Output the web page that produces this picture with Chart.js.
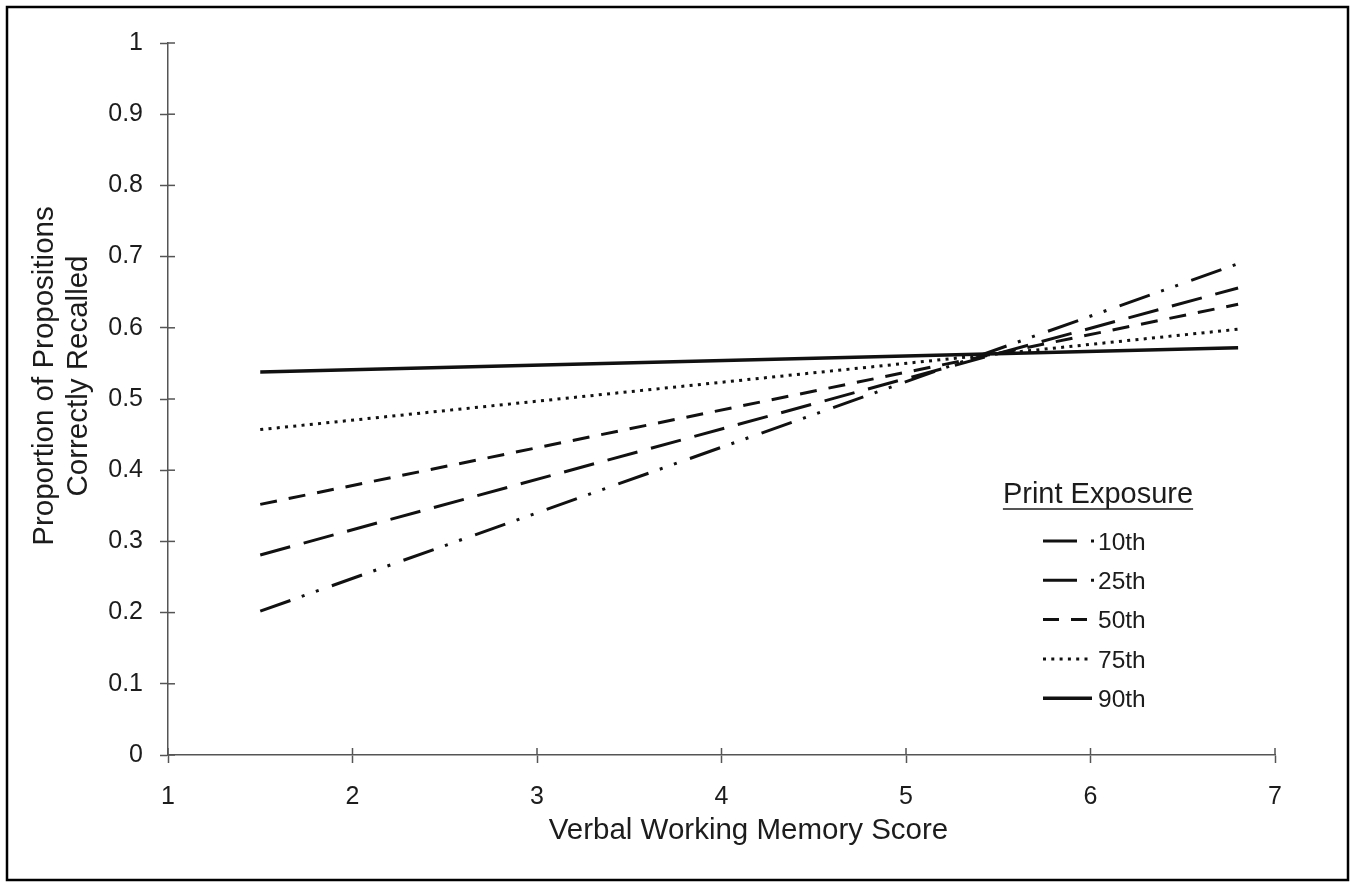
<!DOCTYPE html>
<html>
<head>
<meta charset="utf-8">
<script src="https://cdn.jsdelivr.net/npm/chart.js@4"></script>
<style>
  html, body { margin: 0; padding: 0; background: #fff; }
  #wrap { width: 1355px; height: 886px; position: relative; }
</style>
</head>
<body>
<div id="wrap"><canvas id="grafico" width="1355" height="886"></canvas></div>
<script>
// valores
const puntosX = [1.5, 6.8];
const etiquetas = ["10th", "25th", "50th", "75th", "90th"];
const p10 = [0.202, 0.690];
const p25 = [0.281, 0.656];
const p50 = [0.352, 0.633];
const p75 = [0.457, 0.598];
const p90 = [0.538, 0.572];
const ticksX = [1, 2, 3, 4, 5, 6, 7];
const ticksY = [0, 0.1, 0.2, 0.3, 0.4, 0.5, 0.6, 0.7, 0.8, 0.9, 1];
const tituloX = "Verbal Working Memory Score";
const tituloY = ["Proportion of Propositions", "Correctly Recalled"];
const tituloLeyenda = "Print Exposure";

const fuente = "'Liberation Sans', Arial, sans-serif";
const tinta = "#1c1c1c";

const estilos = [
  { dash: [32, 12, 3, 12, 3, 14], muestra: [34, 14, 3, 100], ancho: 3 },
  { dash: [31, 14], muestra: [34, 14, 3, 100], ancho: 3 },
  { dash: [17, 12], muestra: [16, 12], ancho: 3 },
  { dash: [3, 5.3], muestra: [3, 5.3], ancho: 3 },
  { dash: [], muestra: [], ancho: 3.5 },
];

const series = [p10, p25, p50, p75, p90];

const datasets = series.map((vals, i) => ({
  label: etiquetas[i],
  data: puntosX.map((x, j) => ({ x: x, y: vals[j] })),
  borderColor: "#111",
  borderWidth: estilos[i].ancho,
  borderDash: estilos[i].dash,
  pointRadius: 0,
  fill: false,
  tension: 0,
}));

// ticks que cruzan el eje, titulos, borde exterior y leyenda
const extras = {
  id: "extras",
  afterDraw(chart) {
    const ctx = chart.ctx;
    const xs = chart.scales.x;
    const ys = chart.scales.y;
    const area = chart.chartArea;
    ctx.save();
    ctx.strokeStyle = "#555";
    ctx.lineWidth = 1.5;
    ticksY.forEach((v) => {
      const py = ys.getPixelForValue(v);
      ctx.beginPath();
      ctx.moveTo(xs.left, py);
      ctx.lineTo(xs.left + 7, py);
      ctx.stroke();
    });
    ticksX.forEach((v) => {
      const px = xs.getPixelForValue(v);
      ctx.beginPath();
      ctx.moveTo(px, ys.bottom);
      ctx.lineTo(px, ys.bottom - 7);
      ctx.stroke();
    });

    // titulos de ejes
    ctx.fillStyle = tinta;
    ctx.font = "29.5px " + fuente;
    ctx.textAlign = "center";
    ctx.textBaseline = "middle";
    ctx.fillText(tituloX, (area.left + area.right) / 2 + 27, 831);
    ctx.save();
    ctx.translate(45, (area.top + area.bottom) / 2 - 23);
    ctx.rotate(-Math.PI / 2);
    ctx.fillText(tituloY[0], 0, 0);
    ctx.fillText(tituloY[1], 0, 34);
    ctx.restore();

    // borde
    ctx.strokeStyle = "#000";
    ctx.lineWidth = 2.5;
    ctx.strokeRect(7, 7, 1341, 873);

    // leyenda
    const cx = 1098;
    ctx.fillStyle = tinta;
    ctx.font = "29px " + fuente;
    ctx.textAlign = "center";
    ctx.fillText(tituloLeyenda, cx, 495);
    const w = ctx.measureText(tituloLeyenda).width;
    ctx.strokeStyle = tinta;
    ctx.lineWidth = 1.5;
    ctx.beginPath();
    ctx.moveTo(cx - w / 2, 509);
    ctx.lineTo(cx + w / 2, 509);
    ctx.stroke();

    ctx.font = "24.5px " + fuente;
    ctx.textAlign = "left";
    chart.data.datasets.forEach((ds, i) => {
      const y = 541 + i * 39.3;
      ctx.strokeStyle = "#111";
      ctx.lineWidth = ds.borderWidth;
      ctx.setLineDash(estilos[i].muestra);
      ctx.beginPath();
      ctx.moveTo(1043, y);
      ctx.lineTo(i < 2 ? 1095 : 1092, y);
      ctx.stroke();
      ctx.setLineDash([]);
      ctx.fillText(ds.label, 1098, y + 2);
    });
    ctx.restore();
  },
};

const ctx = document.getElementById("grafico").getContext("2d");
new Chart(ctx, {
  type: "line",
  data: { datasets: datasets },
  options: {
    responsive: false,
    animation: false,
    devicePixelRatio: 1,
    layout: { padding: { left: 0, right: 80, top: 43, bottom: 0 } },
    plugins: { legend: { display: false }, tooltip: { enabled: false } },
    scales: {
      x: {
        type: "linear",
        min: 1,
        max: 7,
        afterFit: (s) => { s.height = 131; },
        afterBuildTicks: (s) => { s.ticks = ticksX.map((v) => ({ value: v })); },
        grid: { drawOnChartArea: false, tickLength: 8, tickColor: "#555", tickWidth: 1.5 },
        border: { color: "#555", width: 1.5 },
        ticks: { color: tinta, font: { family: fuente, size: 25 }, padding: 19, maxRotation: 0 },
      },
      y: {
        type: "linear",
        min: 0,
        max: 1,
        afterFit: (s) => { s.width = 168; },
        afterBuildTicks: (s) => { s.ticks = ticksY.map((v) => ({ value: v })); },
        grid: { drawOnChartArea: false, tickLength: 8, tickColor: "#555", tickWidth: 1.5 },
        border: { color: "#555", width: 1.5 },
        ticks: {
          color: tinta,
          font: { family: fuente, size: 25 },
          padding: 17,
          callback: (v) => String(Math.round(v * 10) / 10),
        },
      },
    },
  },
  plugins: [extras],
});
</script>
</body>
</html>
